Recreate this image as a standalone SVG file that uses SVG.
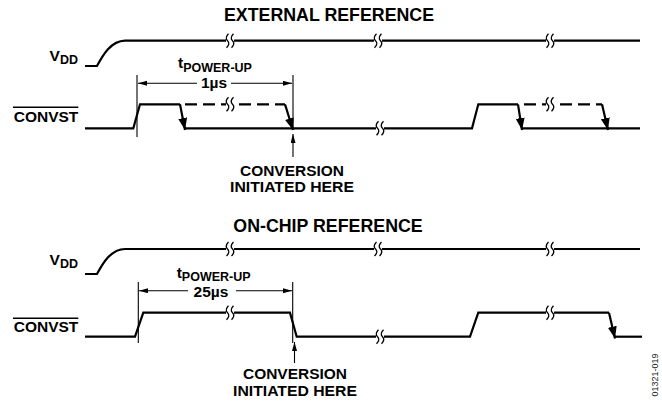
<svg xmlns="http://www.w3.org/2000/svg" xmlns:xlink="http://www.w3.org/1999/xlink" width="662" height="404" viewBox="0 0 662 404">
<style>
text{font-family:"Liberation Sans",Arial,sans-serif;font-weight:bold;fill:#000}
.sig{fill:none;stroke:#000;stroke-width:2.2;stroke-linejoin:miter}
.dash{fill:none;stroke:#000;stroke-width:2.2;stroke-dasharray:12 6}
.thin{fill:none;stroke:#000;stroke-width:1.1}
.lbl{font-size:15.5px}
.cv{font-size:14px}
.ttl{font-size:17.8px}
.sub{font-size:12.5px}
.wav{fill:none;stroke:#000;stroke-width:1.3}
</style>
<defs>
<g id="brk">
<rect x="-4" y="-3" width="8" height="6" fill="#fff"/>
<path class="wav" d="M-1.5,-7 C-4.5,-4 -4.5,-2 -2.5,0 C-0.5,2 -0.5,4 -3.5,7"/>
<path class="wav" d="M3.5,-7 C0.5,-4 0.5,-2 2.5,0 C4.5,2 4.5,4 1.5,7"/>
</g>
<marker id="fa" markerUnits="userSpaceOnUse" markerWidth="14" markerHeight="10" refX="12" refY="4.5" orient="auto">
<path d="M0,0 L12,4.5 L0,9 z" fill="#000"/>
</marker>
<marker id="da" markerUnits="userSpaceOnUse" markerWidth="10" markerHeight="6" refX="9" refY="2.5" orient="auto">
<path d="M0,0 L9,2.5 L0,5 z" fill="#000"/>
</marker>
</defs>
<rect width="662" height="404" fill="#fff"/>

<g id="title-external"><text class="ttl" x="329" y="20.7" text-anchor="middle">EXTERNAL REFERENCE</text></g>
<g id="title-onchip"><text class="ttl" x="328" y="231.7" text-anchor="middle">ON-CHIP REFERENCE</text></g>

<g id="vdd-external">
<text class="lbl" x="78" y="60.5" text-anchor="end">V<tspan class="sub" dy="3">DD</tspan></text>
<path class="sig" d="M85,66 H97 C102,57 110,41 125,40.7 H640"/>
<use xlink:href="#brk" x="230" y="40.7"/>
<use xlink:href="#brk" x="378" y="40.7"/>
<use xlink:href="#brk" x="550" y="40.7"/>
</g>

<g id="convst-external">
<text class="lbl" x="78.3" y="121.7" text-anchor="end">CONVST</text>
<line x1="13" y1="107.3" x2="78.3" y2="107.3" stroke="#000" stroke-width="1.5"/>
<path class="sig" d="M85,128.3 H133.3 L140,104.3 H180"/>
<path class="sig" d="M185,128.3 H472 L478.3,104.3 H518"/>
<path class="sig" d="M522,128.3 H640"/>
<path class="dash" d="M185,104.3 H285"/>
<path class="dash" d="M524,104.3 H602"/>
<line class="sig" x1="180" y1="104.3" x2="185" y2="130" marker-end="url(#fa)"/>
<line class="sig" x1="285" y1="104.3" x2="293" y2="130" marker-end="url(#fa)"/>
<line class="sig" x1="518" y1="104.3" x2="522" y2="130" marker-end="url(#fa)"/>
<line class="sig" x1="602" y1="104.3" x2="608" y2="130" marker-end="url(#fa)"/>
<use xlink:href="#brk" x="230" y="104.3"/>
<use xlink:href="#brk" x="380" y="128.3"/>
<use xlink:href="#brk" x="550" y="104.3"/>
</g>

<g id="tpowerup-external">
<text class="lbl" x="178" y="68.3">t<tspan class="sub" dy="3.4">POWER-UP</tspan></text>
<text class="lbl" x="214" y="87.5" text-anchor="middle">1µs</text>
</g>

<g id="conversion-external">
<text class="cv" x="292" y="176" text-anchor="middle" textLength="104" lengthAdjust="spacingAndGlyphs">CONVERSION</text>
<text class="cv" x="292" y="192.3" text-anchor="middle" textLength="124" lengthAdjust="spacingAndGlyphs">INITIATED HERE</text>
</g>

<g id="vdd-onchip">
<text class="lbl" x="78" y="265" text-anchor="end">V<tspan class="sub" dy="3.3">DD</tspan></text>
<path class="sig" d="M85,274 H97 C102,265 110,249.3 125,249 H640"/>
<use xlink:href="#brk" x="230" y="249"/>
<use xlink:href="#brk" x="378" y="249"/>
<use xlink:href="#brk" x="550" y="249"/>
</g>

<g id="convst-onchip">
<text class="lbl" x="78.3" y="331.7" text-anchor="end">CONVST</text>
<line x1="13" y1="318.3" x2="78.3" y2="318.3" stroke="#000" stroke-width="1.5"/>
<path class="sig" d="M85,336.7 H135 L143.3,312.7 H290 L296.7,336.7 H470 L478.3,312.7 H609"/>
<line class="sig" x1="609" y1="312.7" x2="615" y2="338.5" marker-end="url(#fa)"/>
<path class="sig" d="M615,336.7 H642"/>
<use xlink:href="#brk" x="230" y="312.7"/>
<use xlink:href="#brk" x="380" y="336.7"/>
<use xlink:href="#brk" x="550" y="312.7"/>
</g>

<g id="tpowerup-onchip">
<text class="lbl" x="176.7" y="278">t<tspan class="sub" dy="3">POWER-UP</tspan></text>
<text class="lbl" x="211" y="297" text-anchor="middle">25µs</text>
</g>

<g id="conversion-onchip">
<text class="cv" x="295" y="379.3" text-anchor="middle" textLength="104" lengthAdjust="spacingAndGlyphs">CONVERSION</text>
<text class="cv" x="295" y="395.6" text-anchor="middle" textLength="124" lengthAdjust="spacingAndGlyphs">INITIATED HERE</text>
</g>

<g id="connectors">
<line class="thin" x1="137" y1="75" x2="137" y2="137"/>
<line class="thin" x1="293" y1="75" x2="293" y2="128"/>
<line class="thin" x1="197" y1="83.3" x2="138" y2="83.3" marker-end="url(#da)"/>
<line class="thin" x1="231" y1="83.3" x2="292" y2="83.3" marker-end="url(#da)"/>
<line class="thin" x1="293" y1="157" x2="293" y2="134" marker-end="url(#da)"/>

<line class="thin" x1="138.3" y1="282" x2="138.3" y2="343"/>
<line class="thin" x1="292.7" y1="282" x2="292.7" y2="343"/>
<line class="thin" x1="188" y1="290.7" x2="139" y2="290.7" marker-end="url(#da)"/>
<line class="thin" x1="236" y1="290.7" x2="292" y2="290.7" marker-end="url(#da)"/>
<line class="thin" x1="294.5" y1="363" x2="294.5" y2="342" marker-end="url(#da)"/>
</g>

<g id="figure-code">
<text x="658" y="375" transform="rotate(-90 658 375)" text-anchor="middle" style="font-size:9px;font-weight:normal;fill:#222">01321-019</text>
</g>
</svg>
